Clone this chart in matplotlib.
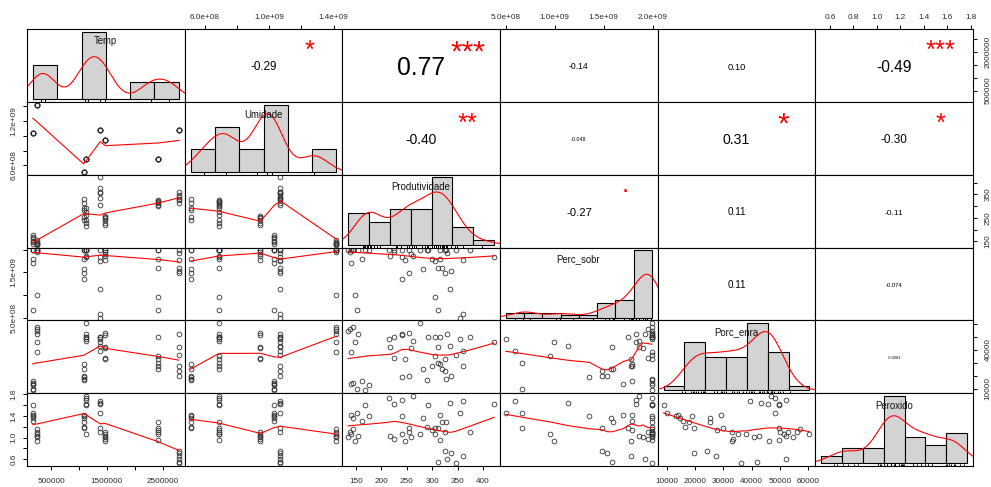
import numpy as np
import matplotlib
matplotlib.use('Agg')
import matplotlib.pyplot as plt
from matplotlib.textpath import TextPath
from matplotlib.font_manager import FontProperties

plt.rcParams['font.family'] = 'Liberation Sans'

names = ['Temp', 'Umidade', 'Produtividade', 'Perc_sobr', 'Porc_enra', 'Peroxido']

temp = [165000, 165000, 165000, 165000, 165000, 165000,
        244000, 244000, 244000, 244000, 244000, 244000,
        1127000, 1127000, 1127000, 1127000, 1127000, 1127000,
        1079000, 1079000, 1079000, 1079000, 1079000, 1079000,
        1378000, 1378000, 1378000, 1378000, 1378000, 1378000,
        1473000, 1473000, 1473000, 1473000, 1473000, 1473000,
        2423000, 2423000, 2423000, 2423000, 2423000, 2423000,
        2794000, 2794000, 2794000, 2794000, 2794000, 2794000]
umidade = [1.030e9, 1.030e9, 1.030e9, 1.030e9, 1.030e9, 1.030e9,
           1.417e9, 1.417e9, 1.417e9, 1.417e9, 1.417e9, 1.417e9,
           6.88e8, 6.88e8, 6.88e8, 6.88e8, 6.88e8, 6.88e8,
           5.13e8, 5.13e8, 5.13e8, 5.13e8, 5.13e8, 5.13e8,
           1.070e9, 1.070e9, 1.070e9, 1.070e9, 1.070e9, 1.070e9,
           9.46e8, 9.46e8, 9.46e8, 9.46e8, 9.46e8, 9.46e8,
           6.88e8, 6.88e8, 6.88e8, 6.88e8, 6.88e8, 6.88e8,
           1.070e9, 1.070e9, 1.070e9, 1.070e9, 1.070e9, 1.070e9]
produtividade = [176, 169, 162, 152, 145, 140,
                 155, 148, 144, 140, 138, 135,
                 292, 276, 262, 240, 226, 215,
                 328, 315, 290, 283, 254, 240,
                 422, 375, 360, 355, 335, 305,
                 258, 254, 247, 240, 226, 218,
                 325, 320, 316, 311, 305, 300,
                 360, 346, 337, 330, 325, 311]
perc_sobr = [1.99e9, 1.99e9, 1.79e9, 0.66e9, 1.99e9, 1.70e9,
             1.99e9, 0.99e9, 1.99e9, 1.99e9, 1.95e9, 1.99e9,
             1.99e9, 1.99e9, 1.86e9, 1.83e9, 1.99e9, 1.99e9,
             1.99e9, 1.79e9, 1.99e9, 1.57e9, 1.485e9, 1.353e9,
             1.83e9, 1.99e9, 0.59e9, 0.50e9, 1.135e9, 1.75e9,
             1.90e9, 1.99e9, 1.78e9, 1.99e9, 1.95e9, 1.86e9,
             1.99e9, 1.59e9, 1.99e9, 0.66e9, 0.953e9, 1.79e9,
             1.776e9, 1.99e9, 1.535e9, 1.92e9, 1.485e9, 1.588e9]
porc_enra = [13210, 8850, 15730, 10150, 14730, 13970,
             52140, 46260, 57250, 38170, 55950, 54660,
             49620, 60500, 47020, 52140, 49800, 48320,
             17790, 29240, 16490, 25420, 19600, 19080,
             45800, 49900, 39400, 48320, 43200, 49620,
             41000, 53000, 33050, 51500, 33590, 42500,
             33050, 25420, 49620, 29800, 35110, 27940,
             27480, 36100, 19800, 52140, 24120, 41980]
peroxido = [1.397, 1.605, 1.315, 1.459, 1.360, 1.421,
            1.035, 0.942, 1.15, 1.067, 1.110, 1.005,
            1.595, 1.067, 1.770, 1.688, 1.627, 1.733,
            1.285, 1.421, 1.192, 1.360, 1.18, 1.397,
            1.627, 1.10, 1.669, 1.459, 1.645, 1.17,
            1.005, 1.110, 0.942, 1.067, 0.973, 1.035,
            1.110, 1.285, 0.960, 1.173, 1.067, 1.147,
            0.662, 0.525, 0.712, 0.61, 0.755, 0.55]

# histogram breaks
temp_breaks = [0, 5e5, 1e6, 1.5e6, 2e6, 2.5e6, 3e6]
umidade_breaks = [4e8, 6e8, 8e8, 1e9, 1.2e9, 1.4e9, 1.6e9]
prod_breaks = [100, 150, 200, 250, 300, 350, 400, 450]
perc_breaks = [4e8, 6e8, 8e8, 1e9, 1.2e9, 1.4e9, 1.6e9, 1.8e9, 2e9]
porc_breaks = [0, 10000, 20000, 30000, 40000, 50000, 60000, 70000]
perox_breaks = [0.4, 0.6, 0.8, 1.0, 1.2, 1.4, 1.6, 1.8]

# upper panels: correlation text and significance stars
cor_pairs = [(0, 1), (0, 2), (0, 3), (0, 4), (0, 5), (1, 2), (1, 3), (1, 4),
             (1, 5), (2, 3), (2, 4), (2, 5), (3, 4), (3, 5), (4, 5)]
cor_values = ['-0.29', '0.77', '-0.14', '0.10', '-0.49', '-0.40', '-0.048', '0.31',
              '-0.30', '-0.27', '0.11', '-0.11', '0.11', '-0.074', '-0.0061']
cor_stars = ['*', '***', '', '', '***', '**', '', '*', '*', '.', '', '', '', '', '']

# axis ticks: (side, index) -> ticks, labels
axis_spec = {
    ('bottom', 0): ([5e5, 1e6, 1.5e6, 2e6, 2.5e6], ['500000', '', '1500000', '', '2500000']),
    ('bottom', 2): ([150, 200, 250, 300, 350, 400], ['150', '200', '250', '300', '350', '400']),
    ('bottom', 4): ([10000, 20000, 30000, 40000, 50000, 60000],
                    ['10000', '20000', '30000', '40000', '50000', '60000']),
    ('top', 1): ([6e8, 8e8, 1e9, 1.2e9, 1.4e9], ['6.0e+08', '', '1.0e+09', '', '1.4e+09']),
    ('top', 3): ([5e8, 1e9, 1.5e9, 2e9], ['5.0e+08', '1.0e+09', '1.5e+09', '2.0e+09']),
    ('top', 5): ([0.6, 0.8, 1.0, 1.2, 1.4, 1.6, 1.8], ['0.6', '0.8', '1.0', '1.2', '1.4', '1.6', '1.8']),
    ('left', 1): ([6e8, 8e8, 1e9, 1.2e9, 1.4e9], ['6.0e+08', '', '', '1.2e+09', '']),
    ('left', 3): ([5e8, 1e9, 1.5e9, 2e9], ['5.0e+08', '', '1.5e+09', '']),
    ('left', 5): ([0.6, 0.8, 1.0, 1.2, 1.4, 1.6, 1.8], ['0.6', '', '1.0', '', '1.4', '', '1.8']),
    ('right', 0): ([5e5, 1e6, 1.5e6, 2e6, 2.5e6], ['500000', '', '', '2000000', '']),
    ('right', 2): ([150, 200, 250, 300, 350, 400], ['150', '', '250', '', '350', '']),
    ('right', 4): ([10000, 20000, 30000, 40000, 50000, 60000], ['10000', '', '', '40000', '', '']),
}

data = [np.array(v, float) for v in (temp, umidade, produtividade, perc_sobr, porc_enra, peroxido)]
breaks = [np.array(b, float) for b in (temp_breaks, umidade_breaks, prod_breaks,
                                       perc_breaks, porc_breaks, perox_breaks)]
nv = len(names)

W, H = 991, 487
gx0, gy0 = 27.0, 29.0
cw = (973.0 - gx0) / nv
ch = (466.0 - gy0) / nv
fp = FontProperties(family='Liberation Sans')
tick_col = '#2a2a2a'


def ink_box(s):
    return TextPath((0, 0), s, size=1, prop=fp).get_extents()


def ink_text(ax, fx, fy, s, size, color='black'):
    # place text so that its ink centre lands on (fx, fy) in axes fraction
    bb = ink_box(s)
    em = size * 100 / 72
    dx = (bb.x0 + bb.x1) / 2 * em / cw
    dy = (bb.y0 + bb.y1) / 2 * em / ch
    ax.text(fx - dx, fy - dy, s, transform=ax.transAxes, ha='left', va='baseline',
            fontsize=size, color=color)


def lim(v):
    d = (v.max() - v.min()) * 0.04
    return v.min() - d, v.max() + d


def lowess(x, y, f=2 / 3, iters=3):
    o = np.argsort(x, kind='stable')
    x = x[o]
    y = y[o]
    n = len(x)
    ns = max(min(int(f * n + 1e-7), n), 2)
    rng = x[-1] - x[0]
    rw = np.ones(n)
    ys = np.zeros(n)
    for it in range(iters + 1):
        for i in range(n):
            d = np.abs(x - x[i])
            h = np.sort(d)[ns - 1]
            w = np.zeros(n)
            inside = d <= 0.999 * h
            r = d[inside] / h if h > 0 else np.zeros(inside.sum())
            w[inside] = np.where(d[inside] <= 0.001 * h, 1.0, (1 - r ** 3) ** 3)
            w *= rw
            if w.sum() <= 0:
                ys[i] = y[i]
                continue
            w = w / w.sum()
            a = np.sum(w * x)
            c = np.sum(w * (x - a) ** 2)
            if np.sqrt(c) > 0.001 * rng:
                b = (x[i] - a) / c
                w = w * (b * (x - a) + 1)
            ys[i] = np.sum(w * y)
        if it == iters:
            break
        res = np.abs(y - ys)
        cmad = 6 * np.median(res)
        if cmad < 1e-7 * np.mean(np.abs(y)):
            break
        u = res / cmad
        rw = np.where(res <= 0.001 * cmad, 1.0, np.where(res <= 0.999 * cmad, (1 - u ** 2) ** 2, 0.0))
    return x, ys


def kde(v):
    n = len(v)
    q75, q25 = np.percentile(v, [75, 25])
    lo = min(v.std(ddof=1), (q75 - q25) / 1.34)
    if lo <= 0:
        lo = v.std(ddof=1)
    bw = 0.9 * lo * n ** -0.2
    xs = np.linspace(v.min() - 3 * bw, v.max() + 3 * bw, 512)
    ys = np.exp(-0.5 * ((xs[:, None] - v[None, :]) / bw) ** 2).sum(1) / (n * bw * np.sqrt(2 * np.pi))
    return xs, ys


fig = plt.figure(figsize=(W / 100, H / 100), dpi=100)
axes = {}
for i in range(nv):
    for j in range(nv):
        rect = [(gx0 + j * cw) / W, 1 - (gy0 + (i + 1) * ch) / H, cw / W, ch / H]
        ax = fig.add_axes(rect)
        axes[(i, j)] = ax
        ax.set_xticks([])
        ax.set_yticks([])
        for sp in ax.spines.values():
            sp.set_linewidth(0.8)
            sp.set_color('black')

        if i == j:
            v = data[i]
            b = breaks[i]
            counts, _ = np.histogram(v, bins=b)
            dens = counts / (len(v) * np.diff(b))
            m = dens.max()
            span = b[-1] - b[0]
            ax.set_xlim(b[0] - 0.04 * span, b[-1] + 0.04 * span)
            ax.set_ylim(-0.04 * m, 1.04 * m)
            ax.bar(b[:-1], dens, width=np.diff(b), align='edge', color='#d3d3d3',
                   edgecolor='black', linewidth=0.8)
            kx, ky = kde(v)
            ax.plot(kx, ky, color='red', lw=0.8)
            ax.vlines(v, 0, 0.03, transform=ax.get_xaxis_transform(), color='black', lw=0.7)
            ink_text(ax, 0.5, 0.83, names[i], 6.9, '#111111')
        else:
            ax.set_xlim(*lim(data[j]))
            ax.set_ylim(*lim(data[i]))
            if i > j:
                ax.plot(data[j], data[i], 'o', ms=3.4, mfc='none', mec='#333333', mew=0.6)
                lx, ly = lowess(data[j], data[i])
                ax.plot(lx, ly, color='red', lw=0.8)

for (a, b), txt, st in zip(cor_pairs, cor_values, cor_stars):
    ax = axes[(a, b)]
    r = abs(float(txt))
    k = 100 / 72
    size = 43 * (r + 0.3) / (ink_box(txt).width * k)
    ink_text(ax, 0.5, 0.487, txt, size)
    if st:
        base = 56 / (ink_box(txt).width * k)
        ink_text(ax, 0.795, 0.785, st, base, 'red')

for (side, idx), (ticks, labels) in axis_spec.items():
    if side == 'bottom':
        ax = axes[(nv - 1, idx)]
        ax.set_xticks(ticks, labels=labels)
        ax.tick_params(axis='x', bottom=True, labelbottom=True, direction='out',
                       length=2.9, width=0.7, pad=6.0, labelsize=5.9, labelcolor=tick_col)
    elif side == 'top':
        ax = axes[(0, idx)]
        ax.xaxis.set_ticks_position('top')
        ax.set_xticks(ticks, labels=labels)
        ax.tick_params(axis='x', top=True, bottom=False, labeltop=True, labelbottom=False,
                       direction='out', length=2.9, width=0.7, pad=3.0, labelsize=5.9,
                       labelcolor=tick_col)
    elif side == 'left':
        ax = axes[(idx, 0)]
        ax.set_yticks(ticks, labels=labels, rotation=90, va='center')
        ax.tick_params(axis='y', left=True, labelleft=True, direction='out',
                       length=2.9, width=0.7, pad=4.2, labelsize=5.9, labelcolor=tick_col)
    else:
        ax = axes[(idx, nv - 1)]
        ax.yaxis.set_ticks_position('right')
        ax.set_yticks(ticks, labels=labels, rotation=90, va='center')
        ax.tick_params(axis='y', right=True, left=False, labelright=True, labelleft=False,
                       direction='out', length=2.9, width=0.7, pad=5.4, labelsize=5.9,
                       labelcolor=tick_col)

fig.savefig('out.png', dpi=100)
